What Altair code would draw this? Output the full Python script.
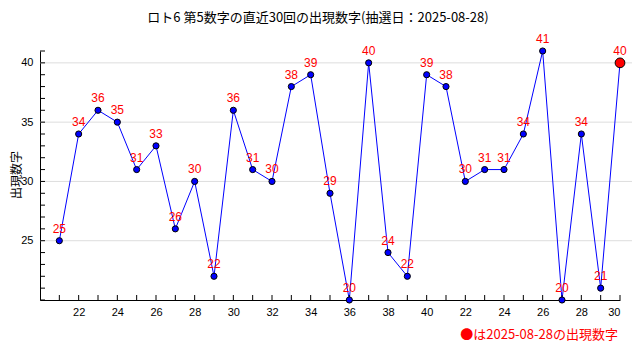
import altair as alt
import pandas as pd

# x-axis draw labels (one per draw, 30 draws)
draw_labels = list(range(21, 41)) + list(range(21, 31))
# 5th number of each draw
values = [25, 34, 36, 35, 31, 33, 26, 30, 22, 36, 31, 30, 38, 39, 29,
          20, 40, 24, 22, 39, 38, 30, 31, 31, 34, 41, 20, 34, 21, 40]
y_major = [25, 30, 35, 40]
y_minor = list(range(20, 42))
title_text = "ロト6 第5数字の直近30回の出現数字(抽選日：2025-08-28)"
note_text = "●は2025-08-28の出現数字"
y_title = "出現数字"

W, H = 580, 249
LABEL_FONT = "Liberation Sans"
CJK = "Noto Sans CJK JP"

df = pd.DataFrame({"idx": list(range(1, len(values) + 1)), "value": values,
                   "label": [str(v) for v in values]})
df["latest"] = df["idx"] == len(values)

label_expr = "[" + ",".join(f"'{v}'" for v in draw_labels) + "][datum.value - 1]"

xscale = alt.Scale(domain=[0, 30], nice=False, zero=False)
yscale = alt.Scale(domain=[20, 41], nice=False, zero=False)

base = alt.Chart(df)

grid = alt.Chart(pd.DataFrame({"value": y_major})).mark_rule(color="#dddddd").encode(
    y=alt.Y("value:Q", scale=yscale,
            axis=alt.Axis(values=y_major, grid=False, ticks=False, title=None,
                          labelPadding=7, domainColor="black", labelColor="black",
                          labelFont=LABEL_FONT, labelFontSize=11)),
    x=alt.value(0), x2=alt.value(W + 13))

line = base.mark_line(color="#0000ff", strokeWidth=1).encode(
    x=alt.X("idx:Q", scale=xscale,
            axis=alt.Axis(values=list(range(2, 31, 2)), labelExpr=label_expr,
                          title=None, grid=False, ticks=False, labelPadding=6,
                          domainColor="black", labelColor="black",
                          labelFont=LABEL_FONT, labelFontSize=11)),
    y=alt.Y("value:Q"),
)

points = base.mark_circle(opacity=1, stroke="black", strokeWidth=1).encode(
    x="idx:Q", y="value:Q",
    fill=alt.condition("datum.latest", alt.value("#ff0000"), alt.value("#0000ff")),
    size=alt.condition("datum.latest", alt.value(95), alt.value(38)),
)

labels = base.mark_text(color="#ff0000", dy=-12, fontSize=12, font=LABEL_FONT).encode(
    x="idx:Q", y="value:Q", text="label:N")

xt = alt.Chart(pd.DataFrame({"idx": list(range(1, 31))})).mark_rule(color="black").encode(
    x="idx:Q", y=alt.value(H), y2=alt.value(H - 5))
yt = alt.Chart(pd.DataFrame({"value": y_minor})).mark_rule(color="black").encode(
    y="value:Q", x=alt.value(0), x2=alt.value(5))

title = alt.Chart(pd.DataFrame({"t": [title_text]})).mark_text(
    font=CJK, fontSize=13, color="black", align="center", baseline="middle").encode(
    text="t:N", x=alt.value(278), y=alt.value(-33))
ytitle = alt.Chart(pd.DataFrame({"t": [y_title]})).mark_text(
    font=CJK, fontSize=12, color="black", align="center", baseline="middle", angle=270).encode(
    text="t:N", x=alt.value(-23), y=alt.value(124))
note = alt.Chart(pd.DataFrame({"t": [note_text]})).mark_text(
    font=CJK, fontSize=13, color="#ff0000", align="right", baseline="middle").encode(
    text="t:N", x=alt.value(578), y=alt.value(284))

chart = alt.layer(grid, line, xt, yt, points, labels, title, ytitle, note).properties(
    width=W, height=H,
    autosize=alt.AutoSizeParams(type="none"),
    padding={"left": 32, "top": 43, "right": 12, "bottom": 52},
    background="white",
).configure_view(stroke=None)

chart.save("out.html", embed_options={"renderer": "svg", "actions": False})
